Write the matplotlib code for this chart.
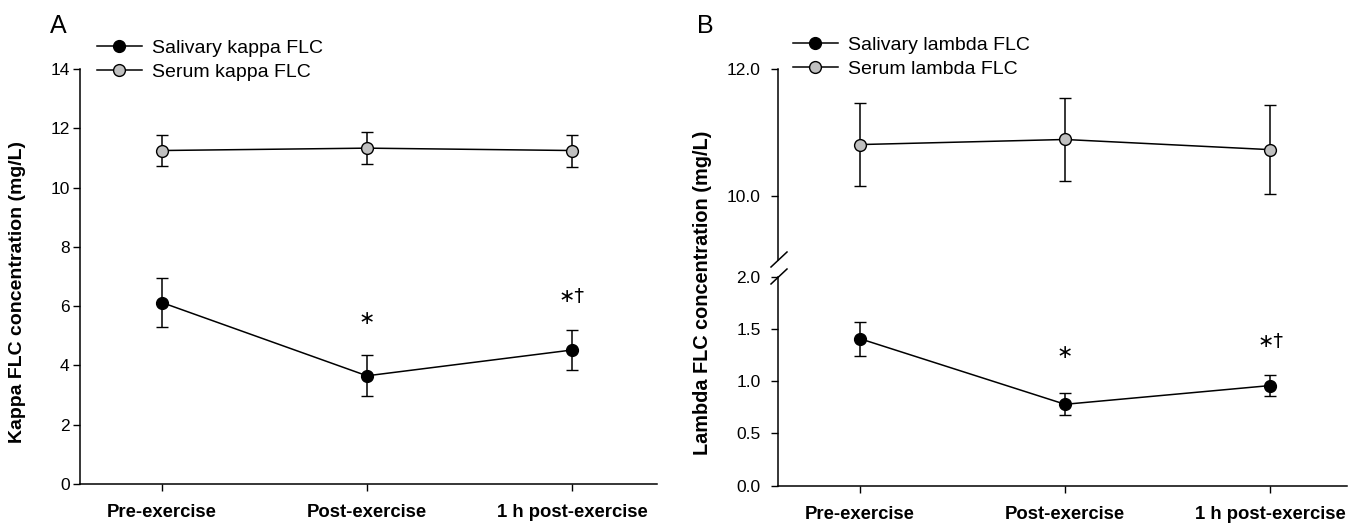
import matplotlib
matplotlib.use('Agg')
import matplotlib.pyplot as plt
from matplotlib.lines import Line2D

plt.rcParams['font.family'] = ['Liberation Sans', 'DejaVu Sans']

# ---------------- data ----------------
categories = ['Pre-exercise', 'Post-exercise', '1 h post-exercise']

kappa_saliva_mean = [6.12, 3.65, 4.52]
kappa_saliva_sem = [0.83, 0.69, 0.66]
kappa_serum_mean = [11.25, 11.33, 11.25]
kappa_serum_sem = [0.51, 0.53, 0.54]

lambda_saliva_mean = [1.41, 0.78, 0.96]
lambda_saliva_sem = [0.165, 0.105, 0.105]
lambda_serum_mean = [10.81, 10.89, 10.73]
lambda_serum_sem = [0.66, 0.65, 0.70]

kappa_yticks = [0, 2, 4, 6, 8, 10, 12, 14]
lambda_low_yticks = [0.0, 0.5, 1.0, 1.5, 2.0]
lambda_high_yticks = [10.0, 12.0]

kappa_sig_idx = [1, 2]
kappa_sig_txt = ['\u2217', '\u2217\u2020']
kappa_sig_y = [5.6, 6.34]
lambda_sig_idx = [1, 2]
lambda_sig_txt = ['\u2217', '\u2217\u2020']
lambda_sig_y = [1.28, 1.38]

# ---------------- layout helpers ----------------
W, H = 1356, 523
fig = plt.figure(figsize=(W / 100, H / 100), dpi=100)


def fx(px):
    return px / W


def fy(py):
    return 1 - py / H


def rect(x0, y0, x1, y1):
    return [fx(x0), fy(y1), fx(x1) - fx(x0), fy(y0) - fy(y1)]


SAL_FACE = 'black'
SER_FACE = '#c0c0c0'
xs = list(range(len(categories)))
style = dict(fmt='-o', color='black', mec='black', ms=8.5, mew=1.0, lw=1.1,
             elinewidth=1.1, capsize=4.5, capthick=1.1, zorder=3)


def base_axis(ax, pad):
    for s in ['top', 'right']:
        ax.spines[s].set_visible(False)
    for s in ['left', 'bottom']:
        ax.spines[s].set_linewidth(1.1)
    ax.tick_params(axis='y', direction='out', length=5, width=1.0,
                   labelsize=12.5, pad=pad)
    ax.tick_params(axis='x', direction='out', length=5, width=1.0,
                   labelsize=13.3, pad=9.5)


def bottom_xaxis(ax):
    ax.set_xticks(xs)
    ax.set_xticklabels(categories, fontweight='bold')


# ---------------- Panel A ----------------
axA = fig.add_axes(rect(80, 69, 657, 484))
base_axis(axA, 2.5)
axA.errorbar(xs, kappa_saliva_mean, yerr=kappa_saliva_sem, mfc=SAL_FACE, **style)
axA.errorbar(xs, kappa_serum_mean, yerr=kappa_serum_sem, mfc=SER_FACE, **style)
axA.set_xlim(-0.40, 2.415)
axA.set_ylim(0, 14)
axA.set_yticks(kappa_yticks)
bottom_xaxis(axA)
for i, t, y in zip(kappa_sig_idx, kappa_sig_txt, kappa_sig_y):
    axA.text(xs[i], y, t, ha='center', va='center', fontsize=14,
             family=['DejaVu Sans'])

# ---------------- Panel B ----------------
axBl = fig.add_axes(rect(778, 277.3, 1347, 485.5))
axBh = fig.add_axes(rect(778, 69, 1347, 259.5), sharex=axBl)
base_axis(axBl, 7.5)
base_axis(axBh, 7.5)
axBh.spines['bottom'].set_visible(False)
axBh.tick_params(axis='x', bottom=False, labelbottom=False)

axBl.errorbar(xs, lambda_saliva_mean, yerr=lambda_saliva_sem, mfc=SAL_FACE, **style)
axBh.errorbar(xs, lambda_serum_mean, yerr=lambda_serum_sem, mfc=SER_FACE, **style)
axBl.set_xlim(-0.40, 2.375)
axBl.set_ylim(0, 2.0)
axBh.set_ylim(9.0, 12.0)
axBl.set_yticks(lambda_low_yticks)
axBl.set_yticklabels(['%.1f' % v for v in lambda_low_yticks])
axBh.set_yticks(lambda_high_yticks)
axBh.set_yticklabels(['%.1f' % v for v in lambda_high_yticks])
bottom_xaxis(axBl)
for i, t, y in zip(lambda_sig_idx, lambda_sig_txt, lambda_sig_y):
    axBl.text(xs[i], y, t, ha='center', va='center', fontsize=14,
              family=['DejaVu Sans'])

# axis break slashes
for cy in (259.5, 276.5):
    fig.add_artist(Line2D([fx(771), fx(787)], [fy(cy + 7.5), fy(cy - 7.5)],
                          transform=fig.transFigure, color='black', lw=1.1))

# ---------------- labels ----------------
fig.text(fx(18), fy(292), 'Kappa FLC concentration (mg/L)', rotation=90,
         ha='center', va='center', fontsize=14, fontweight='bold')
fig.text(fx(703), fy(293), 'Lambda FLC concentration (mg/L)', rotation=90,
         ha='center', va='center', fontsize=14.3, fontweight='bold')
fig.text(fx(50), fy(33), 'A', fontsize=18, ha='left', va='baseline')
fig.text(fx(697), fy(33), 'B', fontsize=18, ha='left', va='baseline')

# ---------------- legends ----------------
def handles():
    h1 = Line2D([], [], color='black', lw=1.1, marker='o', ms=8.5,
                mfc=SAL_FACE, mec='black', mew=1.0)
    h2 = Line2D([], [], color='black', lw=1.1, marker='o', ms=8.5,
                mfc=SER_FACE, mec='black', mew=1.0)
    return [h1, h2]


leg_kw = dict(loc='upper left', frameon=False, fontsize=14, borderpad=0,
              borderaxespad=0, handlelength=2.3, handletextpad=0.55,
              labelspacing=0.36, bbox_transform=fig.transFigure)
fig.legend(handles(), ['Salivary kappa FLC', 'Serum kappa FLC'],
           bbox_to_anchor=(fx(97), fy(39)), **leg_kw)
fig.legend(handles(), ['Salivary lambda FLC', 'Serum lambda FLC'],
           bbox_to_anchor=(fx(793), fy(36)), **leg_kw)

fig.savefig('out.png', dpi=100)
